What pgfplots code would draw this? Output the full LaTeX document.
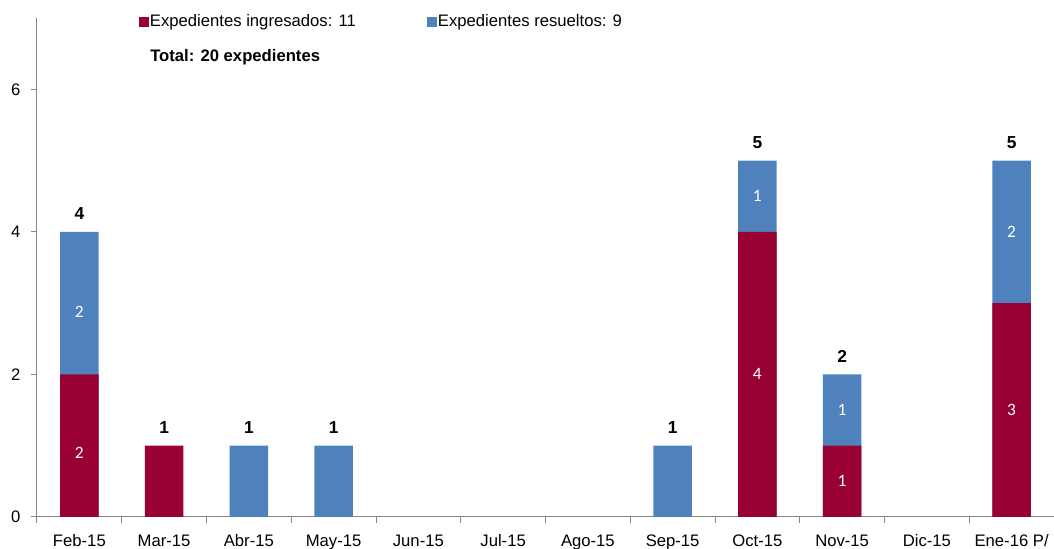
\documentclass[border=0pt]{standalone}
\usepackage{pgfplots}
\pgfplotsset{compat=1.18}
\usepackage{fontspec}
\setmainfont{Liberation Sans}
\newfontfamily\carlito{Carlito}
\definecolor{ing}{RGB}{153,0,51}
\definecolor{res}{RGB}{79,129,189}
\definecolor{axgray}{RGB}{134,134,134}
\begin{document}
\begin{tikzpicture}
\begin{axis}[
  scale only axis, width=762.75pt, height=374.25pt,
  at={(0pt,0pt)}, anchor=south west,
  xmin=-0.5, xmax=11.5, ymin=0, ymax=7,
  axis x line*=bottom, axis y line*=left,
  axis line style={axgray, line width=0.75pt, -},
  xtick={0,...,11},
  xticklabels={Feb-15,Mar-15,Abr-15,May-15,Jun-15,Jul-15,Ago-15,Sep-15,Oct-15,Nov-15,Dic-15,Ene-16 P/},
  minor xtick={-0.5,0.5,...,11.5},
  ytick={0,2,4,6},
  tick align=outside,
  major tick length=4.5pt, minor tick length=4.5pt,
  tick style={axgray, line width=0.75pt},
  major x tick style={draw=none},
  ticklabel style={font=\fontsize{12.5}{15}\selectfont},
  typeset ticklabels with strut,
  xticklabel style={yshift=-3.5pt},
  yticklabel style={xshift=-4.5pt, yshift=-1.5pt},
  /pgf/number format/assume math mode=true,
  clip=false,
]
\addplot[ybar, bar width=29pt, bar shift=0pt, fill=res, draw=none]
  coordinates {(0,4) (2,1) (3,1) (7,1) (8,5) (9,2) (11,5)};
\addplot[ybar, bar width=29pt, bar shift=0pt, fill=ing, draw=none]
  coordinates {(0,2) (1,1) (8,4) (9,1) (11,3)};
% segment labels
\addplot[draw=none, mark=none, nodes near coords, point meta=explicit symbolic,
  every node near coord/.append style={anchor=center, text=white, font=\carlito\fontsize{13}{15}\selectfont}]
  coordinates {(0,0.9)[2] (0,2.88)[2] (8,2)[4] (8,4.5)[1] (9,0.5)[1] (9,1.5)[1] (11,1.5)[3] (11,4)[2]};
% totals
\addplot[draw=none, mark=none, nodes near coords, point meta=explicit symbolic,
  every node near coord/.append style={anchor=center, yshift=13.5pt, text=black, font=\bfseries\fontsize{13}{15}\selectfont}]
  coordinates {(0,4)[4] (1,1)[1] (2,1)[1] (3,1)[1] (7,1)[1] (8,5)[5] (9,2)[2] (11,5)[5]};
\node[anchor=west, inner sep=0pt, font=\fontsize{12.5}{15}\selectfont] at (rel axis cs:0.1003,0.991)
  {\textcolor{ing}{\rule{7pt}{7pt}}\hspace{1pt}Expedientes ingresados: 11};
\node[anchor=west, inner sep=0pt, font=\fontsize{12.5}{15}\selectfont] at (rel axis cs:0.3835,0.991)
  {\textcolor{res}{\rule{7pt}{7pt}}\hspace{1pt}Expedientes resueltos: 9};
\node[anchor=west, inner sep=0pt, font=\bfseries\fontsize{12.5}{15}\selectfont] at (rel axis cs:0.1111,0.9219)
  {Total: 20 expedientes};
\end{axis}
\pgfresetboundingbox
\path (-27.75pt,-24pt) rectangle (762.75pt,387.75pt);
\end{tikzpicture}
\end{document}
